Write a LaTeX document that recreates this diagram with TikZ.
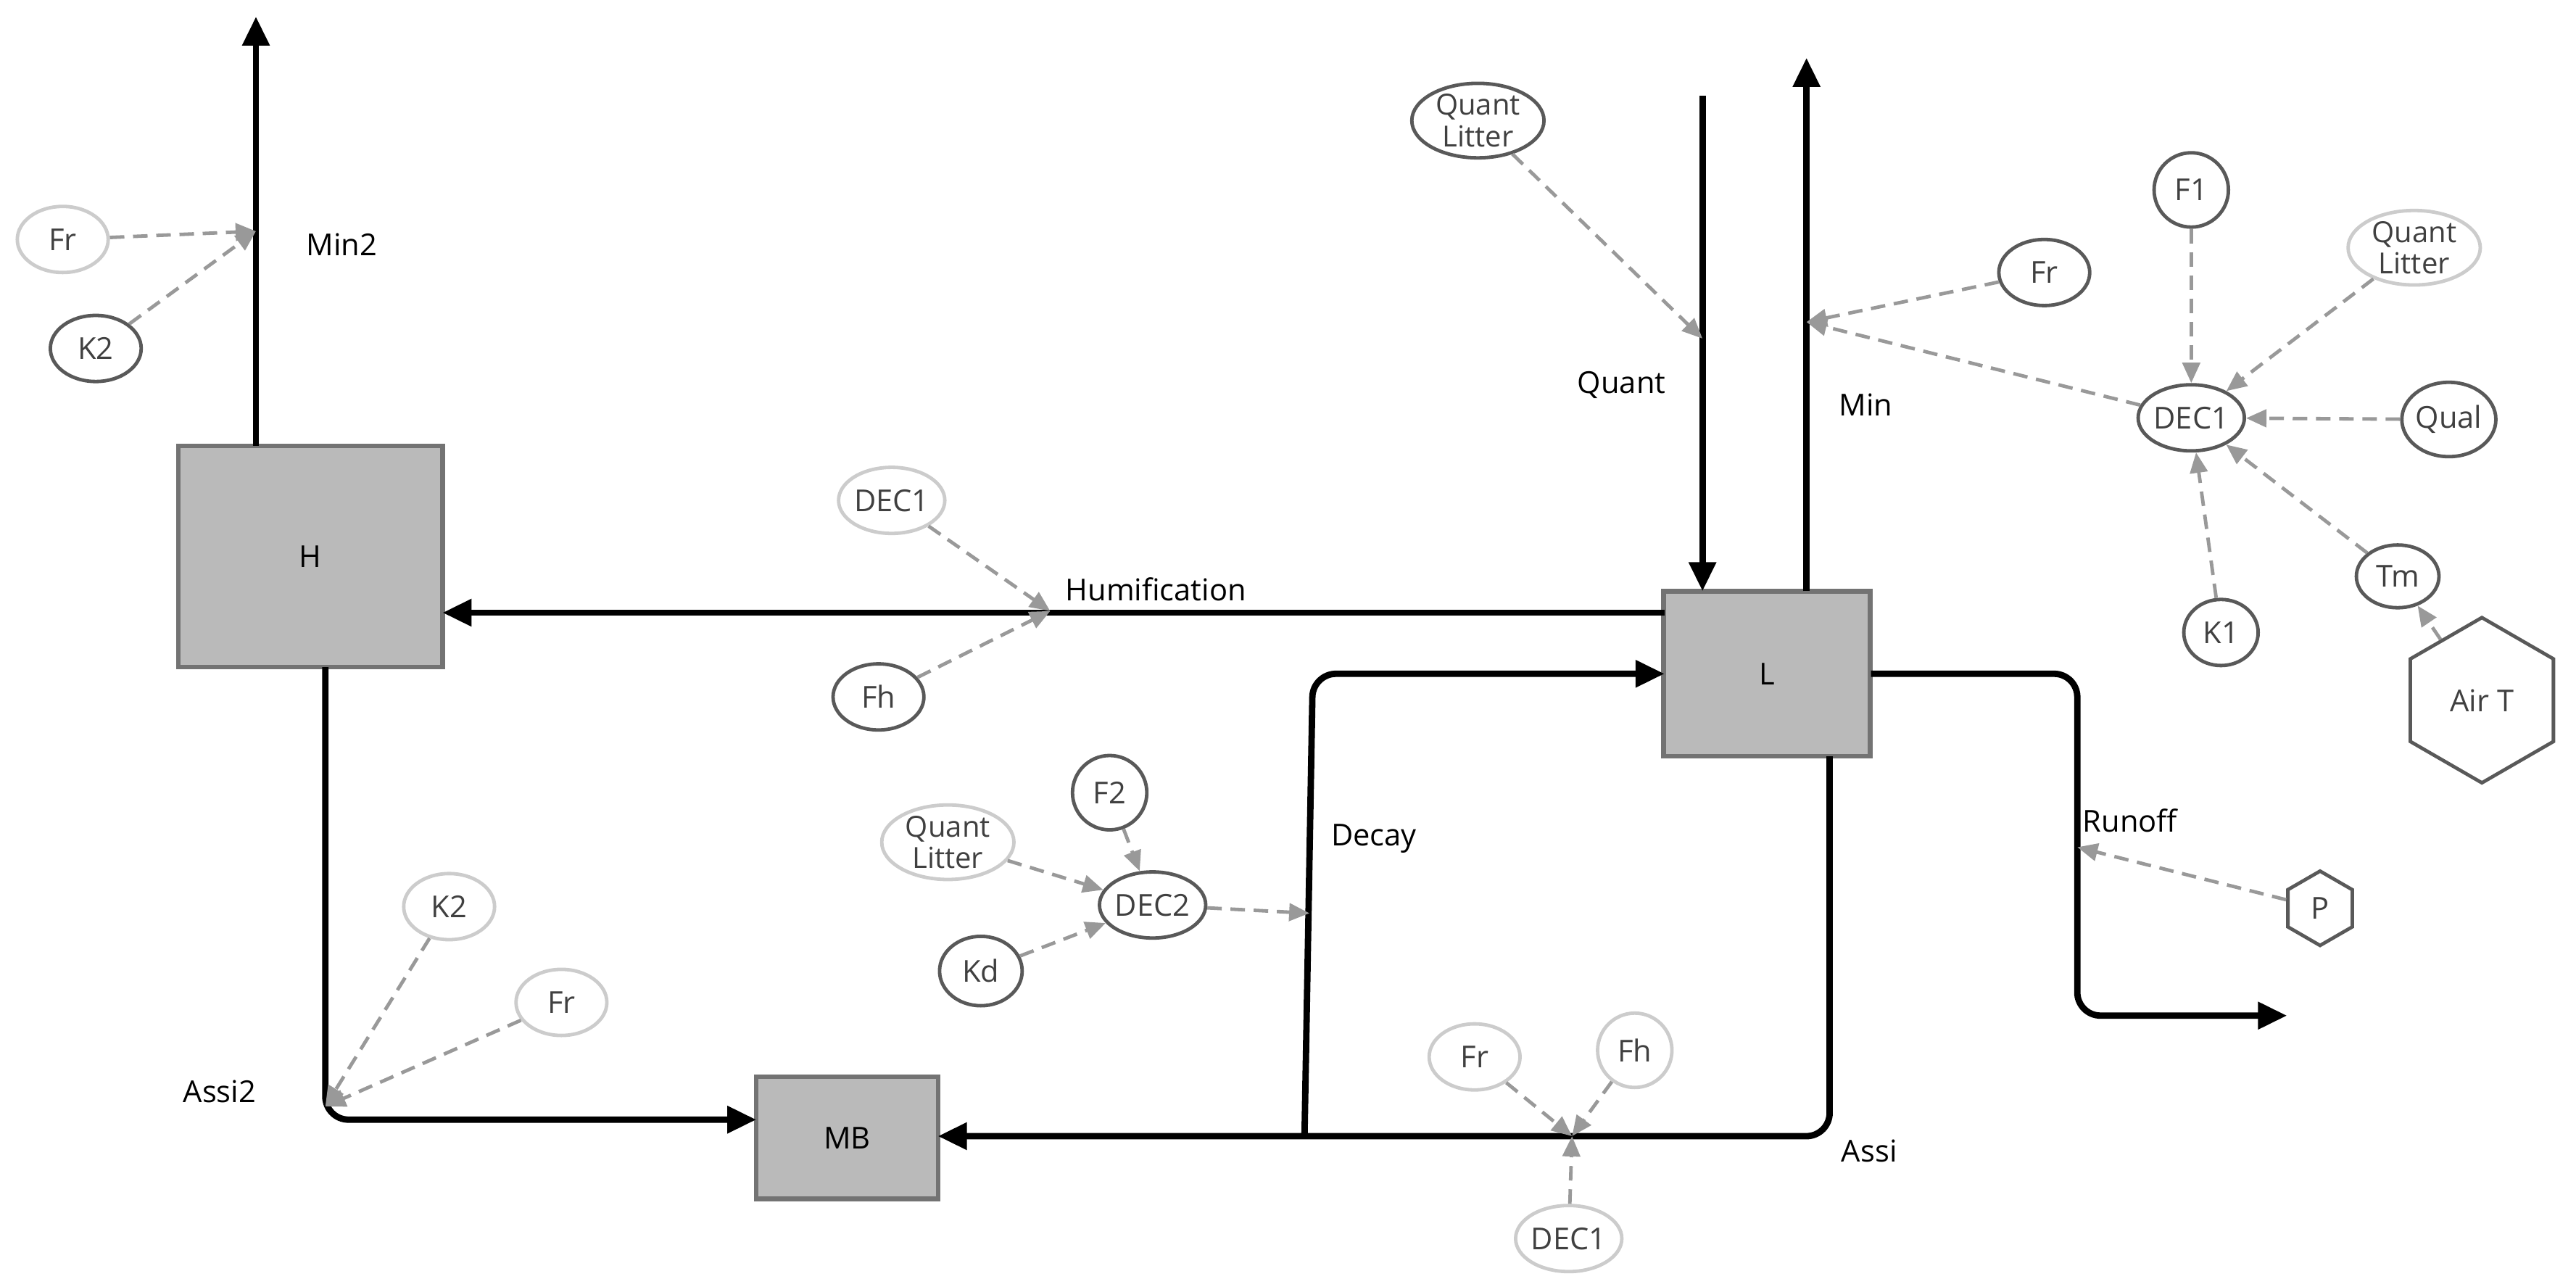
\documentclass[tikz,border=0pt]{standalone}
\usepackage{fontspec}
\setmainfont{Open Sans}
\usetikzlibrary{shapes.geometric,arrows.meta}
\begin{document}
\begin{tikzpicture}[x=0.01cm,y=-0.01cm,font=\fontsize{5.2}{5.6}\selectfont,
 box/.style={draw=black!55,fill=black!27,line width=0.8pt,inner sep=0pt},
 dk/.style={ellipse,draw=black!65,line width=0.6pt,minimum width=0.55cm,minimum height=0.4cm,inner sep=0pt,align=center,text=black!75},
 lt/.style={dk,draw=black!20},
 ql/.style={minimum width=0.8cm,minimum height=0.45cm,font=\fontsize{5}{5.4}\selectfont},
 hx/.style={regular polygon,regular polygon sides=6,shape border rotate=90,draw=black!65,line width=0.6pt,inner sep=0pt,minimum size=0.45cm,text=black!75},
 lab/.style={text=black},
 flow/.style={line width=1.1pt,-{Triangle[length=5pt,width=4.5pt]},rounded corners=4pt},
 inf/.style={draw=black!40,line width=0.6pt,dash pattern=on 2.5pt off 1.5pt,-{Triangle[length=3.5pt,width=3pt]}}]
\useasboundingbox (0,0) rectangle (1560,774.5);
% stocks
\node[box,minimum width=1.6cm,minimum height=1.34cm] (H) at (188,337) {H};
\node[box,minimum width=1.25cm,minimum height=1.0cm] (L) at (1070,408) {L};
\node[box,minimum width=1.1cm,minimum height=0.74cm] (MB) at (513,689) {MB};
% coordinates
\coordinate (min2top) at (155,10);
\coordinate (min2v) at (155,140);
\coordinate (hum) at (636,370);
\coordinate (qtop) at (1031,58);
\coordinate (qv) at (1031,205);
\coordinate (mintop) at (1094,35);
\coordinate (minv) at (1094,195);
\coordinate (runend) at (1385,615);
\coordinate (runv) at (1258,513);
\coordinate (decv) at (793,553);
\coordinate (assiv) at (952,688);
\coordinate (assi2v) at (197,670);
% flows
\draw[flow] (155,270) -- (min2top);
\draw[flow] (1008,371) -- (268,371);
\draw[flow] (qtop) -- (1031,358);
\draw[flow] (1094,358) -- (mintop);
\draw[flow] (1133,408) -- (1258,408) -- (1258,615) -- (runend);
\draw[flow] (1108,458) -- (1108,688) -- (568,688);
\draw[flow] (790,688) -- (795,408) -- (1008,408);
\draw[flow] (197,404) -- (197,678) -- (458,678);
% labels
\node[lab] at (207,148) {Min2};
\node[lab] at (700,357) {Humification};
\node[lab] at (982,233) {Quant};
\node[lab] at (1130,245) {Min};
\node[lab] at (1290,497) {Runoff};
\node[lab] at (832,508) {Decay};
\node[lab] at (1132,697) {Assi};
\node[lab] at (133,661) {Assi2};
% auxiliaries
\node[lt] (fr1) at (38,145) {Fr};
\node[dk] (k21) at (58,211) {K2};
\node[lt] (dec1a) at (540,303) {DEC1};
\node[dk] (fh1) at (532,422) {Fh};
\node[dk,ql] (ql1) at (895,73) {Quant\\Litter};
\node[dk] (fr2) at (1238,165) {Fr};
\node[dk] (dec1b) at (1327,253) {DEC1};
\node[dk,minimum width=0.45cm,minimum height=0.45cm] (f1) at (1327,115) {F1};
\node[lt,ql] (ql2) at (1462,150) {Quant\\Litter};
\node[dk,minimum width=0.5cm,minimum height=0.45cm] (qual) at (1483,254) {Qual};
\node[dk,minimum width=0.45cm,minimum height=0.4cm] (k1) at (1345,383) {K1};
\node[dk,minimum width=0.5cm,minimum height=0.38cm] (tm) at (1452,349) {Tm};
\node[hx,minimum width=1cm,minimum height=0.35cm,regular polygon sides=6] (airt) at (1503,424) {Air T};
\node[hx] (p) at (1405,550) {P};
\node[dk] (dec2) at (698,548) {DEC2};
\node[lt,ql] (ql3) at (574,510) {Quant\\Litter};
\node[dk,minimum width=0.45cm,minimum height=0.45cm] (f2) at (672,480) {F2};
\node[dk,minimum width=0.5cm,minimum height=0.42cm] (kd) at (594,588) {Kd};
\node[lt] (fr3) at (893,640) {Fr};
\node[lt,minimum width=0.45cm,minimum height=0.45cm] (fh3) at (990,636) {Fh};
\node[lt] (dec1c) at (950,750) {DEC1};
\node[lt] (k22) at (272,549) {K2};
\node[lt] (fr4) at (340,607) {Fr};
% influences
\draw[inf] (fr1) -- (min2v);
\draw[inf] (k21) -- (min2v);
\draw[inf] (dec1a) -- (hum);
\draw[inf] (fh1) -- (hum);
\draw[inf] (ql1) -- (qv);
\draw[inf] (fr2) -- (minv);
\draw[inf] (dec1b) -- (minv);
\draw[inf] (f1) -- (dec1b);
\draw[inf] (ql2) -- (dec1b);
\draw[inf] (qual) -- (dec1b);
\draw[inf] (k1) -- (dec1b);
\draw[inf] (tm) -- (dec1b);
\draw[inf] (airt) -- (tm);
\draw[inf] (p) -- (runv);
\draw[inf] (dec2) -- (decv);
\draw[inf] (ql3) -- (dec2);
\draw[inf] (f2) -- (dec2);
\draw[inf] (kd) -- (dec2);
\draw[inf] (fr3) -- (assiv);
\draw[inf] (fh3) -- (assiv);
\draw[inf] (dec1c) -- (assiv);
\draw[inf] (k22) -- (assi2v);
\draw[inf] (fr4) -- (assi2v);
\end{tikzpicture}
\end{document}
